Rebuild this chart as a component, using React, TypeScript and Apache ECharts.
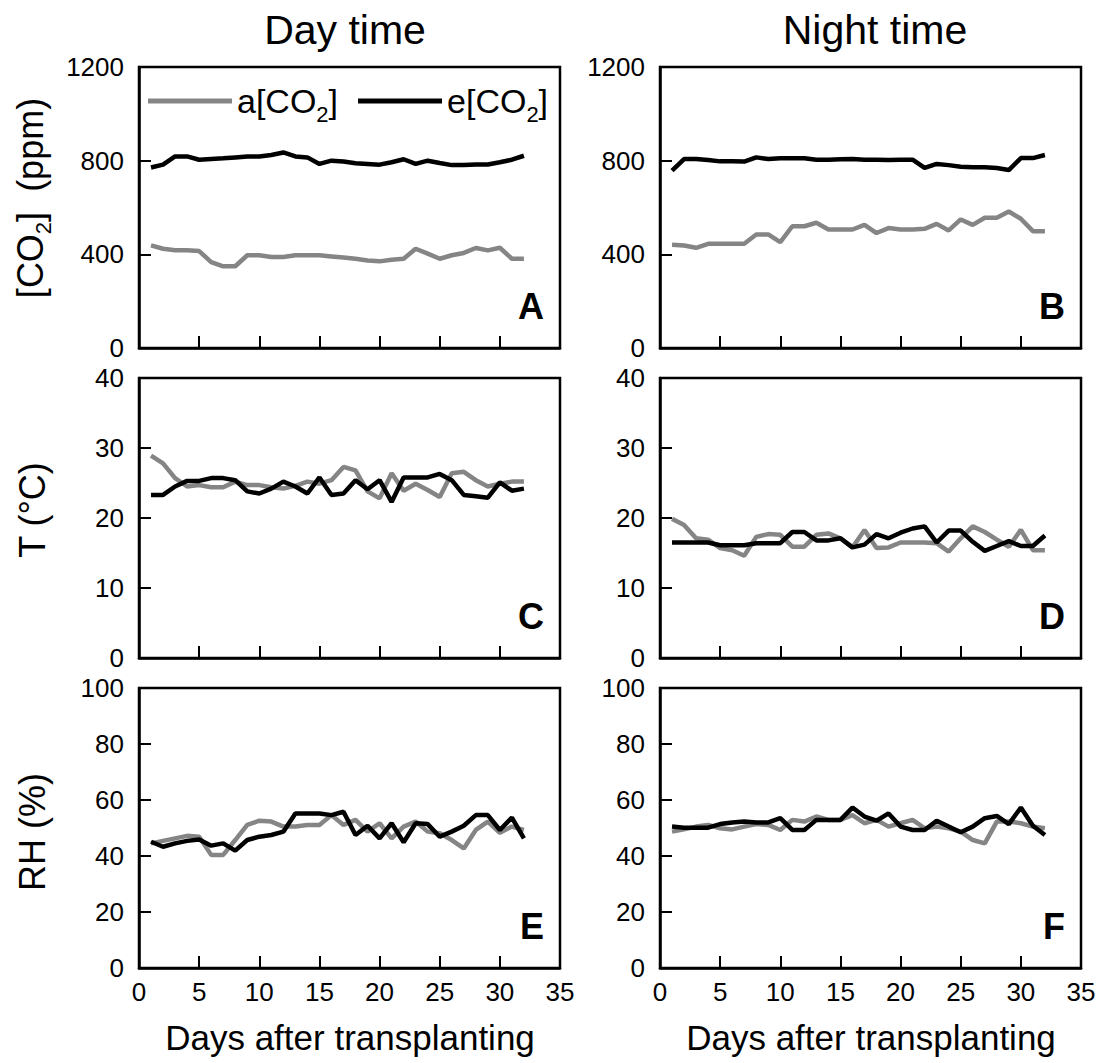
import React, { useEffect, useRef } from "react";
import * as echarts from "echarts";

// Days after transplanting
const days = [1, 2, 3, 4, 5, 6, 7, 8, 9, 10, 11, 12, 13, 14, 15, 16, 17, 18, 19, 20, 21, 22, 23, 24, 25, 26, 27, 28, 29, 30, 31, 32];

// Panel A: day-time CO2 (ppm)
const dayCO2Amb = [438, 424, 417, 417, 414, 367, 349, 349, 396, 396, 389, 389, 396, 396, 396, 391, 386, 381, 374, 370, 377, 381, 424, 403, 381, 396, 406, 427, 417, 428, 381, 381];
const dayCO2Elev = [771, 783, 818, 818, 804, 807, 810, 814, 818, 818, 824, 835, 818, 814, 786, 800, 796, 789, 786, 783, 793, 806, 786, 800, 790, 781, 781, 784, 784, 793, 804, 821];
// Panel B: night-time CO2 (ppm)
const nightCO2Amb = [441, 438, 428, 445, 445, 445, 445, 485, 485, 452, 520, 520, 535, 506, 506, 506, 526, 491, 512, 506, 506, 509, 530, 502, 549, 526, 556, 556, 583, 552, 499, 499];
const nightCO2Elev = [757, 807, 807, 803, 797, 797, 796, 814, 807, 810, 810, 810, 804, 804, 806, 807, 804, 804, 803, 804, 804, 769, 786, 781, 774, 772, 772, 769, 760, 811, 811, 824];
// Panel C: day-time temperature (°C)
const dayTAmb = [28.9, 27.8, 25.7, 24.5, 24.7, 24.4, 24.4, 25.2, 24.7, 24.7, 24.4, 24.2, 24.6, 25.2, 24.9, 25.4, 27.3, 26.8, 23.8, 22.8, 26.4, 23.9, 24.9, 24.0, 23.0, 26.4, 26.6, 25.4, 24.5, 24.9, 25.2, 25.2];
const dayTElev = [23.3, 23.3, 24.5, 25.3, 25.3, 25.7, 25.7, 25.4, 23.8, 23.5, 24.2, 25.2, 24.5, 23.5, 25.8, 23.3, 23.5, 25.4, 24.1, 25.4, 22.3, 25.8, 25.8, 25.8, 26.3, 25.4, 23.3, 23.1, 22.9, 25.1, 23.9, 24.2];
// Panel D: night-time temperature (°C)
const nightTAmb = [19.9, 19.0, 17.1, 16.9, 15.7, 15.4, 14.6, 17.3, 17.7, 17.6, 15.9, 15.9, 17.6, 17.8, 17.1, 15.8, 18.3, 15.7, 15.8, 16.5, 16.5, 16.5, 16.4, 15.2, 17.1, 18.8, 18.0, 16.9, 15.9, 18.3, 15.4, 15.4];
const nightTElev = [16.5, 16.5, 16.5, 16.5, 16.1, 16.1, 16.1, 16.4, 16.4, 16.4, 18.0, 18.0, 16.8, 16.8, 17.1, 15.8, 16.2, 17.7, 17.1, 17.9, 18.5, 18.8, 16.5, 18.2, 18.2, 16.6, 15.3, 16.0, 16.7, 16.0, 16.0, 17.5];
// Panel E: day-time RH (%)
const dayRHAmb = [44.5, 45.4, 46.3, 47.2, 46.9, 40.4, 40.4, 45.7, 51.1, 52.6, 52.3, 50.5, 50.5, 51.1, 51.1, 54.6, 51.1, 52.9, 48.7, 51.7, 46.3, 50.5, 52.3, 48.7, 48.1, 45.7, 42.7, 49.3, 52.3, 48.3, 50.5, 49.3];
const dayRHElev = [45.1, 43.3, 44.5, 45.4, 45.9, 43.7, 44.5, 41.9, 45.7, 46.9, 47.5, 48.7, 55.2, 55.2, 55.2, 54.6, 55.8, 47.5, 50.8, 46.3, 51.7, 44.9, 51.7, 51.4, 46.9, 48.7, 50.8, 54.6, 54.6, 49.3, 53.7, 46.3];
// Panel F: night-time RH (%)
const nightRHAmb = [48.7, 49.5, 50.5, 51.1, 49.9, 49.5, 50.5, 51.4, 51.1, 49.3, 52.9, 52.3, 54.1, 52.9, 52.9, 54.6, 51.7, 52.9, 50.5, 51.7, 52.9, 49.9, 50.5, 49.9, 48.7, 45.7, 44.5, 52.3, 52.3, 51.7, 50.5, 49.9];
const nightRHElev = [50.5, 50.1, 50.1, 50.1, 51.4, 52.0, 52.3, 52.0, 52.0, 53.5, 49.3, 49.3, 52.9, 52.9, 52.9, 57.3, 54.1, 52.6, 55.2, 50.5, 49.3, 49.3, 52.6, 50.5, 48.5, 50.5, 53.5, 54.3, 51.4, 57.3, 50.8, 47.5];

const seriesNames = ["a[CO2]", "e[CO2]"];
const panelLetters = ["A", "B", "C", "D", "E", "F"];
const columnTitles = ["Day time", "Night time"];
const xTitle = "Days after transplanting";
const yTitles = ["[CO{sub|2}]  (ppm)", "T (°C)", "RH (%)"];
const yMax = [1200, 40, 100];
const yInterval = [400, 10, 20];
const xMax = 35;
const xInterval = 5;

const panelData = [
  [dayCO2Amb, dayCO2Elev],
  [nightCO2Amb, nightCO2Elev],
  [dayTAmb, dayTElev],
  [nightTAmb, nightTElev],
  [dayRHAmb, dayRHElev],
  [nightRHAmb, nightRHElev],
];

const FONT = "'Liberation Sans', Arial, Helvetica, sans-serif";
const GRAY = "#858585";
const BLACK = "#000000";
const colLeft = [139, 660];
const gridWidth = 421;
const rowTop = [67, 378, 688];
const rowHeight = [281, 280, 280];

function pairs(vals: number[]) {
  return days.map((d, i) => [d, vals[i]]);
}

function buildOption() {
  const grid: any[] = [];
  const xAxis: any[] = [];
  const yAxis: any[] = [];
  const series: any[] = [];
  const graphic: any[] = [];

  for (let p = 0; p < 6; p++) {
    const row = Math.floor(p / 2);
    const col = p % 2;
    grid.push({
      left: colLeft[col],
      top: rowTop[row],
      width: gridWidth,
      height: rowHeight[row],
      show: true,
      borderColor: "#000",
      borderWidth: 2.5,
      backgroundColor: "transparent",
      containLabel: false,
    });
    xAxis.push({
      type: "value",
      gridIndex: p,
      min: 0,
      max: xMax,
      interval: xInterval,
      axisLine: { show: true, lineStyle: { color: "#000", width: 2.5 } },
      axisTick: { show: true, inside: true, length: 12, lineStyle: { color: "#000", width: 2 } },
      axisLabel: {
        show: row === 2,
        fontSize: 26,
        color: "#000",
        fontFamily: FONT,
        margin: 11,
        formatter: (v: number) => String(v),
      },
      splitLine: { show: false },
    });
    yAxis.push({
      type: "value",
      gridIndex: p,
      min: 0,
      max: yMax[row],
      interval: yInterval[row],
      axisLine: { show: true, lineStyle: { color: "#000", width: 2.5 } },
      axisTick: { show: true, inside: true, length: 12, lineStyle: { color: "#000", width: 2 } },
      axisLabel: {
        fontSize: 26,
        color: "#000",
        fontFamily: FONT,
        margin: 15,
        formatter: (v: number) => String(v),
      },
      splitLine: { show: false },
    });
    const [amb, elev] = panelData[p];
    series.push({
      name: seriesNames[0],
      type: "line",
      xAxisIndex: p,
      yAxisIndex: p,
      data: pairs(amb),
      symbol: "none",
      lineStyle: { color: GRAY, width: 4.5 },
      itemStyle: { color: GRAY },
      z: 2,
    });
    series.push({
      name: seriesNames[1],
      type: "line",
      xAxisIndex: p,
      yAxisIndex: p,
      data: pairs(elev),
      symbol: "none",
      lineStyle: { color: BLACK, width: 4.5 },
      itemStyle: { color: BLACK },
      z: 3,
    });

    const right = colLeft[col] + gridWidth;
    const bottom = rowTop[row] + rowHeight[row];
    graphic.push({
      type: "text",
      x: right - 16,
      y: bottom - 42,
      style: {
        text: panelLetters[p],
        font: `bold 36px ${FONT}`,
        fill: "#000",
        align: "right",
        verticalAlign: "middle",
        textAlign: "right",
        textVerticalAlign: "middle",
      },
    });
  }

  const titleX = [345, 875];
  const xTitleX = [350, 871];
  for (let c = 0; c < 2; c++) {
    graphic.push({
      type: "text",
      x: titleX[c],
      y: 30,
      style: {
        text: columnTitles[c],
        font: `41px ${FONT}`,
        fill: "#000",
        align: "center",
        verticalAlign: "middle",
        textAlign: "center",
        textVerticalAlign: "middle",
      },
    });
    graphic.push({
      type: "text",
      x: xTitleX[c],
      y: 1037,
      style: {
        text: xTitle,
        font: `35px ${FONT}`,
        fill: "#000",
        align: "center",
        verticalAlign: "middle",
        textAlign: "center",
        textVerticalAlign: "middle",
      },
    });
  }

  const yTitleX = [30, 32, 32];
  const yTitleY = [198, 510, 832];
  for (let r = 0; r < 3; r++) {
    graphic.push({
      type: "text",
      x: yTitleX[r],
      y: yTitleY[r],
      rotation: Math.PI / 2,
      style: {
        text: yTitles[r],
        fontSize: 36,
        fontFamily: FONT,
        fill: "#000",
        lineHeight: 48,
        align: "center",
        verticalAlign: "middle",
        textAlign: "center",
        textVerticalAlign: "middle",
        rich: {
          sub: { fontSize: 22, lineHeight: 22, verticalAlign: "bottom", fontFamily: FONT, fill: "#000" },
        },
      },
    });
  }

  return {
    animation: false,
    backgroundColor: "#ffffff",
    textStyle: { fontFamily: FONT },
    grid,
    xAxis,
    yAxis,
    series,
    graphic,
    legend: {
      data: seriesNames,
      left: 143,
      top: 72,
      orient: "horizontal",
      icon: "rect",
      itemWidth: 84,
      itemHeight: 5,
      itemGap: 20,
      selectedMode: false,
      formatter: (name: string) => name.replace("2]", "{sub|2}]"),
      textStyle: {
        fontSize: 34,
        color: "#000",
        fontFamily: FONT,
        lineHeight: 48,
        rich: {
          sub: { fontSize: 22, lineHeight: 22, verticalAlign: "bottom", color: "#000", fontFamily: FONT },
        },
      },
    },
  };
}

export default function App() {
  const ref = useRef<HTMLDivElement>(null);
  useEffect(() => {
    if (!ref.current) return;
    const chart = echarts.init(ref.current, null, { renderer: "svg" });
    chart.setOption(buildOption() as any);
    return () => chart.dispose();
  }, []);
  return (
    <div
      ref={ref}
      style={{ position: "absolute", left: 0, top: 0, width: 1105, height: 1063, background: "#fff" }}
    />
  );
}
